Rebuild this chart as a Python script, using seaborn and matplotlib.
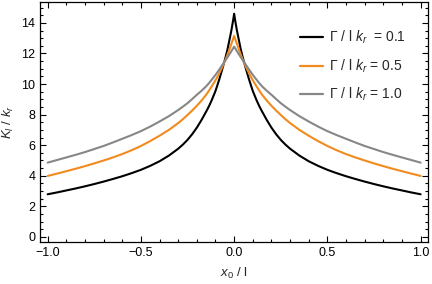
import numpy as np
import pandas as pd
import matplotlib
matplotlib.use('Agg')
import matplotlib.pyplot as plt
from matplotlib.ticker import MultipleLocator
import seaborn as sns

# half curve (x >= 0); the curves are symmetric in x
X_HALF = [0.0, 0.005, 0.01, 0.015, 0.02, 0.025, 0.03, 0.035, 0.045, 0.055,
          0.065, 0.08, 0.09, 0.1, 0.12, 0.135, 0.15, 0.175, 0.2, 0.225, 0.25,
          0.275, 0.3, 0.35, 0.4, 0.45, 0.5, 0.55, 0.6, 0.65, 0.7, 0.75, 0.8,
          0.85, 0.9, 0.95, 1.0]
K_01 = [14.6, 14.2, 13.85, 13.5, 13.2, 12.9, 12.6, 12.3, 11.8, 11.35,
        10.92, 10.3, 9.92, 9.55, 8.95, 8.55, 8.2, 7.65, 7.15, 6.72, 6.35,
        6.04, 5.77, 5.32, 4.95, 4.65, 4.39, 4.17, 3.97, 3.79, 3.62, 3.46, 3.31,
        3.17, 3.04, 2.91, 2.79]
K_05 = [13.15, 12.97, 12.8, 12.62, 12.45, 12.28, 12.11, 11.95, 11.64, 11.35,
        11.08, 10.7, 10.47, 10.25, 9.85, 9.57, 9.3, 8.92, 8.58, 8.27, 7.98,
        7.7, 7.45, 7.0, 6.62, 6.27, 5.95, 5.67, 5.42, 5.2, 5.0, 4.81, 4.63,
        4.46, 4.3, 4.14, 3.99]
K_10 = [12.45, 12.35, 12.25, 12.15, 12.05, 11.96, 11.86, 11.77, 11.58, 11.4,
        11.22, 10.95, 10.77, 10.6, 10.29, 10.06, 9.85, 9.56, 9.3, 9.02, 8.75,
        8.52, 8.3, 7.9, 7.55, 7.22, 6.92, 6.66, 6.42, 6.18, 5.95, 5.75, 5.55,
        5.37, 5.2, 5.03, 4.86]
LABELS = [r'Γ / l $k_r$  = 0.1', r'Γ / l $k_r$ = 0.5', r'Γ / l $k_r$ = 1.0']
COLORS = ['#000000', '#F28A1E', '#878787']

X_TICKS = [-1.0, -0.5, 0.0, 0.5, 1.0]
Y_TICKS = [0, 2, 4, 6, 8, 10, 12, 14]

rows = []
for lab, half in zip(LABELS, [K_01, K_05, K_10]):
    xs = [-x for x in X_HALF[::-1]] + X_HALF[1:]
    ys = half[::-1] + half[1:]
    for x, y in zip(xs, ys):
        rows.append((lab, x, y))
df = pd.DataFrame(rows, columns=['curve', 'x', 'k'])

sns.set_theme(style='ticks')
plt.rcParams['font.family'] = ['Liberation Sans', 'DejaVu Sans']
plt.rcParams['mathtext.fontset'] = 'custom'
plt.rcParams['mathtext.rm'] = 'Liberation Sans'
plt.rcParams['mathtext.it'] = 'Liberation Sans:italic'

fig = plt.figure(figsize=(4.32, 2.84), dpi=100)
ax = fig.add_axes([0.093, 0.148, 0.898, 0.845])
sns.lineplot(data=df, x='x', y='k', hue='curve', palette=COLORS,
             hue_order=LABELS, linewidth=1.5, sort=False, ax=ax)

ax.set_xlim(-1.04, 1.04)
ax.set_ylim(-0.33, 15.37)
ax.set_xticks(X_TICKS)
ax.set_xticklabels(['\u22121.0', '\u22120.5', '0.0', '0.5', '1.0'])
ax.set_yticks(Y_TICKS)
ax.xaxis.set_minor_locator(MultipleLocator(0.1))
ax.yaxis.set_minor_locator(MultipleLocator(0.5))
ax.tick_params(which='both', direction='in', top=True, right=True,
               labelsize=9, colors='black', width=0.8)
ax.tick_params(which='major', length=4)
ax.tick_params(which='minor', length=2)
for s in ax.spines.values():
    s.set_linewidth(0.9)
    s.set_color('black')

ax.set_xlabel(r'$x_0$ / l', fontsize=9.5, labelpad=5)
ax.set_ylabel(r'$K_l$ / $k_r$', fontsize=9.5, labelpad=4)

leg = ax.legend(loc='upper right', frameon=False, fontsize=10,
                handlelength=1.6, handletextpad=0.45, labelspacing=0.8,
                bbox_to_anchor=(0.975, 0.94))
for line in leg.get_lines():
    line.set_linewidth(1.6)

fig.savefig('out.png', dpi=100)
